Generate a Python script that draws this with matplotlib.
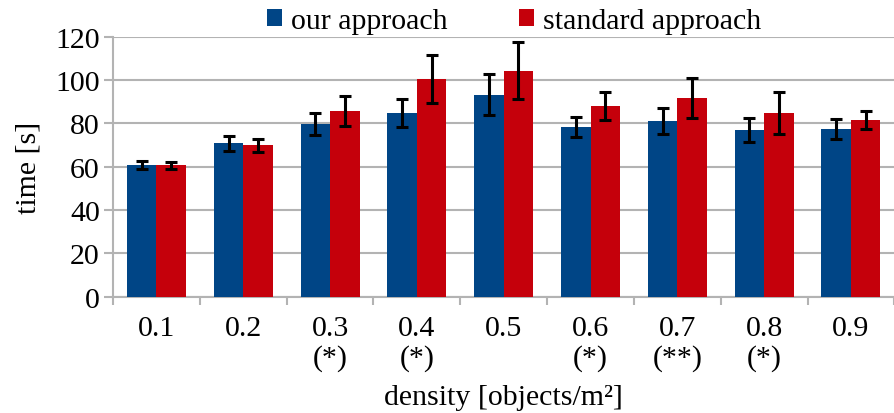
import matplotlib
matplotlib.use("Agg")
import matplotlib.pyplot as plt
import numpy as np

categories = ["0.1", "0.2", "0.3", "0.4", "0.5", "0.6", "0.7", "0.8", "0.9"]
significance = ["", "", "(*)", "(*)", "", "(*)", "(**)", "(*)", ""]
our_mean = [60.6, 70.8, 79.7, 84.8, 93.1, 78.3, 81.1, 76.9, 77.4]
our_err = [1.8, 3.4, 5.2, 6.5, 9.5, 4.8, 5.9, 5.4, 4.5]
std_mean = [60.6, 69.8, 85.7, 100.5, 104.2, 88.0, 91.7, 84.8, 81.5]
std_err = [1.7, 3.1, 6.9, 11.1, 13.2, 6.5, 9.2, 9.6, 4.3]

plt.rcParams['font.family'] = ['Liberation Serif', 'DejaVu Serif']
FS = 21.5

fig = plt.figure(figsize=(8.95, 4.14), dpi=100)
ax = fig.add_axes([0.1263, 0.2814, 0.873, 0.6276])

x = np.arange(len(categories))
w = 0.34
blue = "#004586"
red = "#C5000B"
grid_c = "#b3b3b3"
ekw = dict(elinewidth=2.2, capthick=2.2, ecolor="black")

ax.bar(x - w/2, our_mean, w, color=blue, label="our approach", zorder=3,
       yerr=our_err, capsize=4.3, error_kw=ekw)
ax.bar(x + w/2, std_mean, w, color=red, label="standard approach", zorder=3,
       yerr=std_err, capsize=4.3, error_kw=ekw)

ax.set_xlim(-0.5, len(categories) - 0.5)
ax.set_ylim(0, 120)
ax.set_yticks(np.arange(0, 121, 20))
ax.yaxis.grid(True, color=grid_c, linewidth=1.5, zorder=0)
ax.set_axisbelow(True)

labels = [c if s == "" else c + "\n" + s for c, s in zip(categories, significance)]
ax.set_xticks(x)
ax.set_xticklabels(labels, fontsize=FS, linespacing=1.15, va="top")
ax.set_xticks(np.arange(-0.5, len(categories)), minor=True)
ax.tick_params(axis="x", which="major", length=0, pad=13)
ax.tick_params(axis="x", which="minor", length=6, width=1.5, color=grid_c, direction="out")
ax.tick_params(axis="y", which="major", length=6.5, width=1.5, color=grid_c, labelsize=FS, pad=3)

for side in ["top", "right"]:
    ax.spines[side].set_visible(False)
for side in ["left", "bottom"]:
    ax.spines[side].set_color(grid_c)
    ax.spines[side].set_linewidth(1.5)

ax.set_ylabel("time [s]", fontsize=FS, labelpad=10)
ax.set_xlabel("density [objects/m²]", fontsize=FS, labelpad=10)

leg = ax.legend(loc="lower center", bbox_to_anchor=(0.513, 1.0), ncol=2, frameon=False,
                fontsize=FS, handlelength=0.5, handleheight=0.5, handletextpad=0.3,
                columnspacing=2.4, borderaxespad=0, borderpad=0.1)

fig.savefig("out.png", dpi=100)
